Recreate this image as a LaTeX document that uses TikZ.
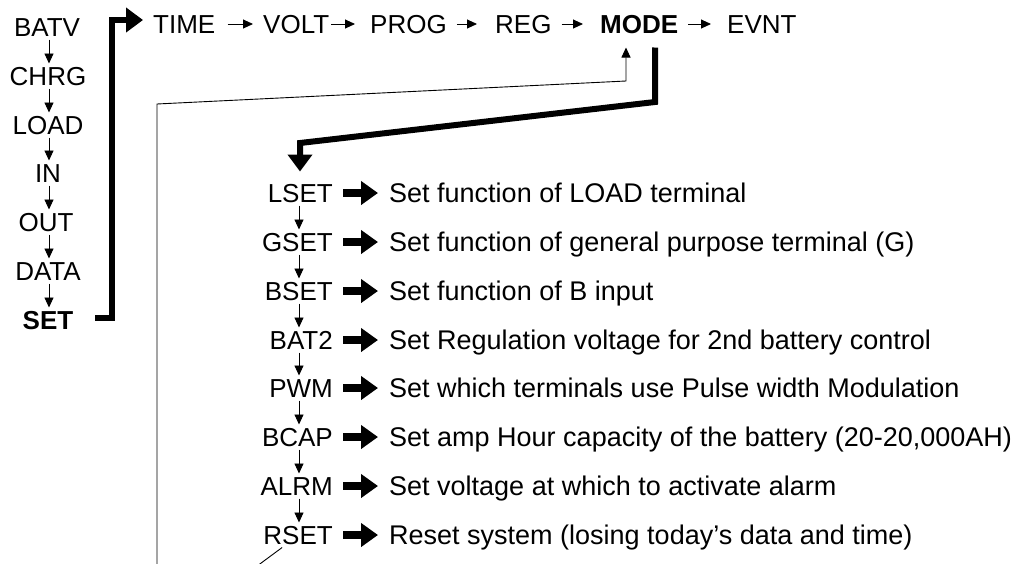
\documentclass[tikz,border=0pt]{standalone}
\usepackage{fontspec}
\setmainfont{Liberation Sans}
\usetikzlibrary{arrows.meta}

\begin{document}
\begin{tikzpicture}[x=1pt,y=-1pt]
        \tikzstyle{every node} = [rectangle, font=\fontsize{26}{30}\selectfont, text height=18.6pt, text depth=0pt, inner sep=3pt]
        \tikzstyle{menu} = [anchor=west, inner sep=0pt]
        \tikzstyle{item} = [anchor=east]
        \tikzstyle{dsc} = [anchor=west, inner sep=0pt, font=\fontsize{27}{30}\selectfont]
        \tikzstyle{thin} = [line width=0.9pt, -{Triangle[length=10pt,width=9pt]}]
        \tikzstyle{fat} = [line width=6pt, -{Triangle[length=17pt,width=24pt]}]
        \tikzstyle{pointer} = [line width=8pt, -{Triangle[length=17pt,width=23pt]}, shorten <=7pt, shorten >=11pt]
        \useasboundingbox (0,0) rectangle (1018,563);
        \clip (0,0) rectangle (1018,563);

        % main menu
        \node (batv) at (47,27) {BATV};
        \node (chrg) at (48,76) {CHRG};
        \node (load) at (48,125) {LOAD};
        \node (in) at (48,173) {IN};
        \node (out) at (46,222) {OUT};
        \node (data) at (48,271) {DATA};
        \node[font=\fontsize{26}{30}\selectfont\bfseries] (set) at (48,320) {SET};

        \foreach \from/\to in {batv/chrg, chrg/load, load/in, in/out, out/data, data/set}
            \draw[thin] (\from.south -| 49,0) -- (\to.north -| 49,0);

        % set menu
        \node[menu] (time) at (153,24) {TIME};
        \node[menu] (volt) at (263,24) {VOLT};
        \node[menu] (prog) at (370,24) {PROG};
        \node[menu] (reg) at (495,24) {REG};
        \node[menu, font=\fontsize{26}{30}\selectfont\bfseries] (mode) at (600,24) {MODE};
        \node[menu] (evnt) at (727,24) {EVNT};

        \foreach \from/\to/\gapl/\gapr in {time/volt/12/10, volt/prog/2/15, prog/reg/10/18, reg/mode/10/17, mode/evnt/10/16}
            \draw[thin, shorten <=\gapl pt, shorten >=\gapr pt] (\from) -- (\to);

        \coordinate (brk) at (112,0);
        \draw[fat, shorten <=19pt, shorten >=10pt] ([yshift=2pt]set.east) -| ([yshift=4pt]time.west -| brk) -- ([yshift=4pt]time.west);

        % mode menu
        \node[item] (lset) at (336,193) {LSET};
        \node[item] (gset) at (336,242) {GSET};
        \node[item] (bset) at (336,291) {BSET};
        \node[item] (bat2) at (336,340) {BAT2};
        \node[item] (pwm) at (336,388) {PWM};
        \node[item] (bcap) at (336,437) {BCAP};
        \node[item] (alrm) at (336,486) {ALRM};
        \node[item] (rset) at (336,535) {RSET};

        \node[dsc] (d1) at (389,193) {Set function of LOAD terminal};
        \node[dsc] (d2) at (389,242) {Set function of general purpose terminal (G)};
        \node[dsc] (d3) at (389,291) {Set function of B input};
        \node[dsc] (d4) at (389,340) {Set Regulation voltage for 2nd battery control};
        \node[dsc] (d5) at (389,388) {Set which terminals use Pulse width Modulation};
        \node[dsc] (d6) at (389,437) {Set amp Hour capacity of the battery (20-20,000AH)};
        \node[dsc] (d7) at (389,486) {Set voltage at which to activate alarm};
        \node[dsc] (d8) at (389,535) {Reset system (losing today’s data and time)};

        \coordinate (col) at (299,0);
        \foreach \from/\to in {lset/gset, gset/bset, bset/bat2, bat2/pwm, pwm/bcap, bcap/alrm, alrm/rset}
            \draw[thin] (\from.south -| col) -- (\to.north -| col);

        \foreach \from/\to in {lset/d1, gset/d2, bset/d3, bat2/d4, pwm/d5, bcap/d6, alrm/d7, rset/d8}
            \draw[pointer] (\from.east) -- (\to.west);

        % into mode and back
        \coordinate (m1) at (655,102);
        \coordinate (m2) at (300,143);
        \draw[fat, shorten <=14pt, shorten >=9pt] ([xshift=16pt]mode.south) -- (m1) -- (m2) -- (m2 |- lset.north);

        \coordinate (r1) at (249,572);
        \coordinate (r2) at (157,572);
        \coordinate (r3) at (157,104);
        \coordinate (r4) at (626,81);
        \draw[thin, shorten >=14pt] ([xshift=-16pt]rset.south) -- (r1) -- (r2) -- (r3) -- (r4) -- (r4 |- mode.south);
      \end{tikzpicture}
\end{document}
